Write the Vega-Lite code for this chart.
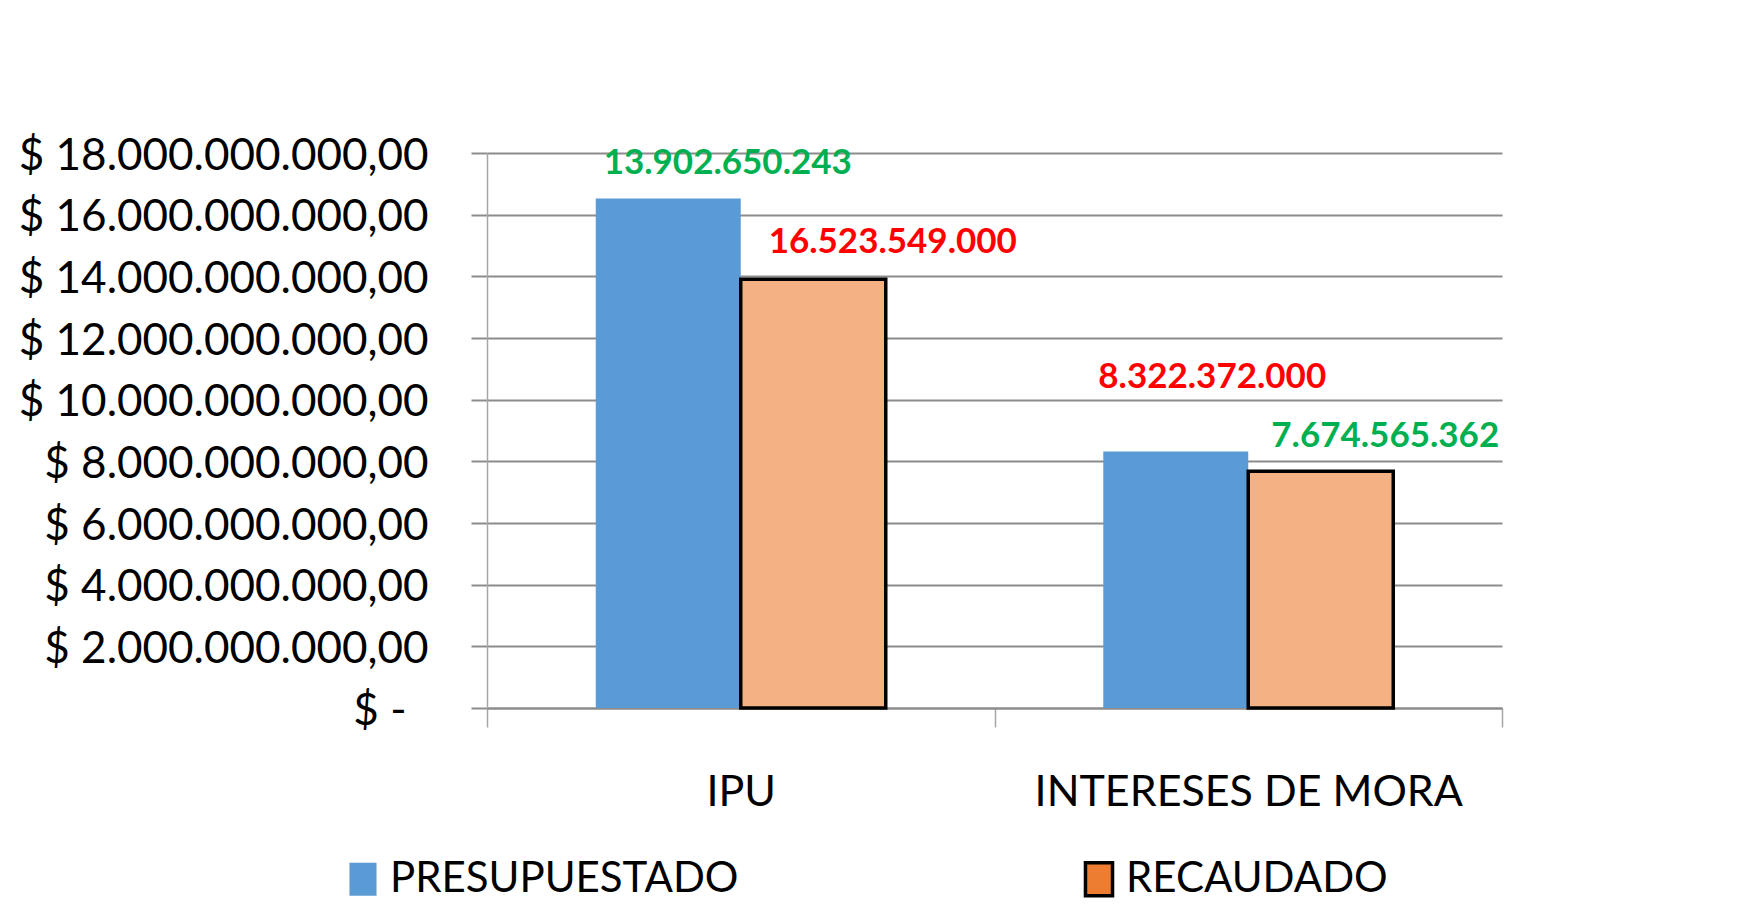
{
  "$schema": "https://vega.github.io/schema/vega-lite/v6.json",
  "autosize": {"type": "none"},
  "width": 1015,
  "height": 555,
  "padding": {"left": 487, "top": 153, "right": 246, "bottom": 205},
  "background": "white",
  "config": {
    "view": {"stroke": null},
    "font": "Lato",
    "locale": {"number": {"decimal": ",", "thousands": ".", "grouping": [3], "currency": ["$ ", ""]}}
  },
  "data": {
    "values": [
      {"categoria": "IPU", "serie": "PRESUPUESTADO", "valor": 16523549000, "etiqueta": "13.902.650.243", "etiqueta_serie": "RECAUDADO"},
      {"categoria": "IPU", "serie": "RECAUDADO", "valor": 13902650243, "etiqueta": "16.523.549.000", "etiqueta_serie": "PRESUPUESTADO"},
      {"categoria": "INTERESES DE MORA", "serie": "PRESUPUESTADO", "valor": 8322372000, "etiqueta": "8.322.372.000", "etiqueta_serie": "PRESUPUESTADO"},
      {"categoria": "INTERESES DE MORA", "serie": "RECAUDADO", "valor": 7674565362, "etiqueta": "7.674.565.362", "etiqueta_serie": "RECAUDADO"}
    ]
  },
  "encoding": {
    "x": {
      "field": "categoria", "type": "nominal", "sort": ["IPU", "INTERESES DE MORA"],
      "scale": {"paddingInner": 0, "paddingOuter": 0},
      "axis": {
        "title": null, "labelAngle": 0, "labelFontSize": 43, "labelColor": "#000000", "labelFont": "Lato", "labelLimit": 2000,
        "tickBand": "extent", "tickSize": 19, "tickColor": "#A6A6A6", "tickWidth": 1.5,
        "domainColor": "#8C8C8C", "domainWidth": 2, "labelBaseline": "middle", "labelPadding": 65, "grid": false
      }
    },
    "xOffset": {
      "field": "serie", "type": "nominal", "sort": ["PRESUPUESTADO", "RECAUDADO"],
      "scale": {"paddingInner": 0, "paddingOuter": 0.75}
    },
    "y": {
      "field": "valor", "type": "quantitative",
      "scale": {"domain": [0, 18000000000], "nice": false},
      "axis": {
        "title": null,
        "values": [0, 2000000000, 4000000000, 6000000000, 8000000000, 10000000000, 12000000000, 14000000000, 16000000000, 18000000000],
        "format": "$,.2f",
        "labelExpr": "datum.value === 0 ? '$ -' : datum.label",
        "labelFontSize": 44, "labelColor": "#000000", "labelFont": "Lato", "labelLimit": 2000,
        "labelPadding": {"condition": {"test": "datum.value === 0", "value": 65}, "value": 43},
        "labelOffset": 3,
        "tickSize": 16, "tickColor": "#8C8C8C", "tickWidth": 2,
        "domainColor": "#A6A6A6", "domainWidth": 1.5,
        "grid": true, "gridColor": "#8C8C8C", "gridWidth": 2
      }
    }
  },
  "layer": [
    {
      "mark": {"type": "bar", "opacity": 0},
      "encoding": {
        "fill": {
          "field": "serie", "type": "nominal",
          "scale": {"domain": ["PRESUPUESTADO", "RECAUDADO"], "range": ["#5B9BD5", "#ED7D31"]},
          "legend": {
            "title": null, "orient": "none", "legendX": -145, "legendY": 705, "direction": "horizontal",
            "symbolType": "M-0.82,-1H0.82V1H-0.82Z", "symbolSize": 1089, "symbolOpacity": 1, "symbolStrokeWidth": 3.5,
            "labelFontSize": 42, "labelFont": "Lato", "labelColor": "#000000", "labelOffset": 6, "labelLimit": 2000,
            "columnPadding": 339
          }
        },
        "stroke": {
          "field": "serie", "type": "nominal",
          "scale": {"domain": ["PRESUPUESTADO", "RECAUDADO"], "range": ["transparent", "#000000"]},
          "legend": {
            "title": null, "orient": "none", "legendX": -145, "legendY": 705, "direction": "horizontal",
            "symbolType": "M-0.82,-1H0.82V1H-0.82Z", "symbolSize": 1089, "symbolOpacity": 1, "symbolStrokeWidth": 3.5,
            "labelFontSize": 42, "labelFont": "Lato", "labelColor": "#000000", "labelOffset": 6, "labelLimit": 2000,
            "columnPadding": 339
          }
        }
      }
    },
    {
      "mark": {"type": "bar", "strokeWidth": 3.5, "strokeJoin": "miter"},
      "encoding": {
        "color": {
          "field": "serie", "type": "nominal",
          "scale": {"domain": ["PRESUPUESTADO", "RECAUDADO"], "range": ["#5B9BD5", "#F4B183"]},
          "legend": null
        },
        "stroke": {"condition": {"test": "datum.serie === 'RECAUDADO'", "value": "#000000"}, "value": "transparent"}
      }
    },
    {
      "transform": [{"filter": "datum.categoria === 'IPU' && datum.serie === 'PRESUPUESTADO'"}],
      "mark": {"type": "text", "fontSize": 35, "fontWeight": "bold", "dx": 59.5, "dy": -36, "baseline": "middle", "align": "center"},
      "encoding": {
        "text": {"field": "etiqueta"},
        "color": {"condition": {"test": "datum.etiqueta_serie === 'RECAUDADO'", "value": "#00B050"}, "value": "#FF0000"}
      }
    },
    {
      "transform": [{"filter": "datum.categoria === 'IPU' && datum.serie === 'RECAUDADO'"}],
      "mark": {"type": "text", "fontSize": 35, "fontWeight": "bold", "dx": 79.5, "dy": -37, "baseline": "middle", "align": "center"},
      "encoding": {
        "text": {"field": "etiqueta"},
        "color": {"condition": {"test": "datum.etiqueta_serie === 'RECAUDADO'", "value": "#00B050"}, "value": "#FF0000"}
      }
    },
    {
      "transform": [{"filter": "datum.categoria === 'INTERESES DE MORA' && datum.serie === 'PRESUPUESTADO'"}],
      "mark": {"type": "text", "fontSize": 35, "fontWeight": "bold", "dx": 36.5, "dy": -74, "baseline": "middle", "align": "center"},
      "encoding": {
        "text": {"field": "etiqueta"},
        "color": {"condition": {"test": "datum.etiqueta_serie === 'RECAUDADO'", "value": "#00B050"}, "value": "#FF0000"}
      }
    },
    {
      "transform": [{"filter": "datum.categoria === 'INTERESES DE MORA' && datum.serie === 'RECAUDADO'"}],
      "mark": {"type": "text", "fontSize": 35, "fontWeight": "bold", "dx": 64.5, "dy": -35.5, "baseline": "middle", "align": "center"},
      "encoding": {
        "text": {"field": "etiqueta"},
        "color": {"condition": {"test": "datum.etiqueta_serie === 'RECAUDADO'", "value": "#00B050"}, "value": "#FF0000"}
      }
    }
  ]
}
